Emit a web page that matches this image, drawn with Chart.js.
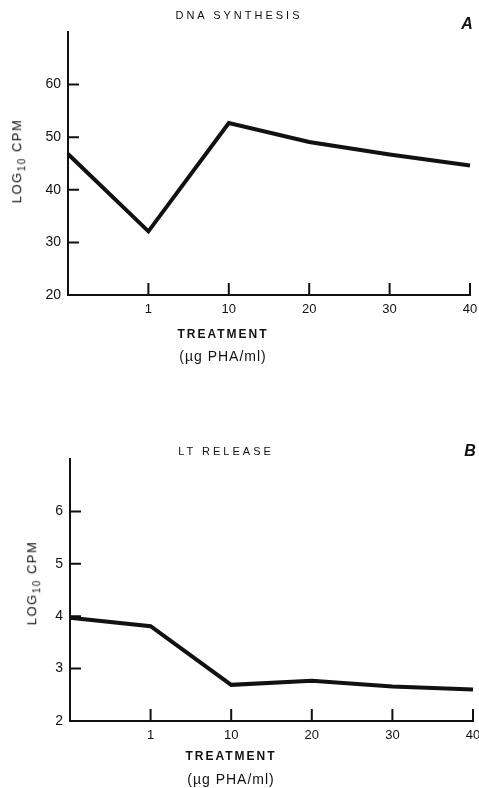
<!DOCTYPE html>
<html>
<head>
<meta charset="utf-8">
<script src="https://cdn.jsdelivr.net/npm/chart.js@4"></script>
<style>
  body { margin: 0; background: #fff; overflow: hidden; }
  #wrap { position: relative; width: 479px; height: 788px; font-family: "Liberation Sans", Arial, sans-serif; color: #111; }
  canvas { position: absolute; left: 0; }
  .lbl { position: absolute; white-space: nowrap; transform: translate(-50%, -50%); }
  .title { font-size: 11px; letter-spacing: 3px; }
  .xt { font-size: 12px; font-weight: bold; letter-spacing: 2px; }
  .unit { font-size: 14px; letter-spacing: 1px; }
  .panel { font-size: 16px; font-weight: bold; font-style: italic; }
  .yt { font-size: 13px; letter-spacing: 1.5px; transform: translate(-50%, -50%) rotate(-90deg); }
  .yt sub { font-size: 10px; }
</style>
</head>
<body>
<div id="wrap">
  <canvas id="chartA" width="479" height="394" style="top:0"></canvas>
  <canvas id="chartB" width="479" height="394" style="top:394px"></canvas>

  <div class="lbl title" style="left:239px; top:15px">DNA SYNTHESIS</div>
  <div class="lbl panel" style="left:467px; top:24px">A</div>
  <div class="lbl yt" style="left:18px; top:161px">LOG<sub>10</sub> CPM</div>
  <div class="lbl xt" style="left:223px; top:334px">TREATMENT</div>
  <div class="lbl unit" style="left:223px; top:356px">(µg PHA/ml)</div>

  <div class="lbl title" style="left:226px; top:451px">LT RELEASE</div>
  <div class="lbl panel" style="left:470px; top:451px">B</div>
  <div class="lbl yt" style="left:33px; top:583px">LOG<sub>10</sub> CPM</div>
  <div class="lbl xt" style="left:231px; top:756px">TREATMENT</div>
  <div class="lbl unit" style="left:231px; top:779px">(µg PHA/ml)</div>
</div>

<script>
// PHA dose categories (first one is the untreated control, unlabelled on the axis)
const doses = ['0', '1', '10', '20', '30', '40'];

// panel A - DNA synthesis
const dnaValues = [46.8, 32.1, 52.7, 49.1, 46.7, 44.6];
const dnaTicks = [20, 30, 40, 50, 60];

// panel B - LT release
const ltValues = [3.97, 3.81, 2.69, 2.77, 2.66, 2.6];
const ltTicks = [2, 3, 4, 5, 6];

// ticks point inward, so draw them ourselves from the scales
const innerTicks = {
  id: 'innerTicks',
  afterDraw(chart) {
    const ctx = chart.ctx;
    const x = chart.scales.x, y = chart.scales.y;
    ctx.save();
    ctx.strokeStyle = '#111';
    ctx.lineWidth = 2;
    ctx.beginPath();
    y.ticks.forEach(t => {
      const py = y.getPixelForValue(t.value);
      ctx.moveTo(x.left, py);
      ctx.lineTo(x.left + 11, py);
    });
    x.ticks.forEach((t, i) => {
      if (i === 0) return;
      const px = x.getPixelForValue(t.value);
      ctx.moveTo(px, y.bottom);
      ctx.lineTo(px, y.bottom - 12);
    });
    ctx.stroke();
    ctx.restore();
  }
};

function makeChart(id, values, yTicks, yMin, yMax, box) {
  return new Chart(document.getElementById(id), {
    type: 'line',
    data: {
      labels: doses,
      datasets: [{
        data: values,
        borderColor: '#111',
        borderWidth: 4,
        pointRadius: 0,
        tension: 0,
        borderJoinStyle: 'miter'
      }]
    },
    options: {
      responsive: false,
      animation: false,
      layout: { padding: { top: box.top, right: box.right, left: 0, bottom: 0 } },
      plugins: { legend: { display: false }, tooltip: { enabled: false } },
      scales: {
        x: {
          type: 'category',
          offset: false,
          grid: { display: true, drawOnChartArea: false, drawTicks: false, color: 'rgba(0,0,0,0)' },
          border: { display: true, color: '#111', width: 2 },
          ticks: {
            color: '#111',
            padding: 7,
            font: { family: 'Liberation Sans', size: 13 },
            maxRotation: 0,
            autoSkip: false,
            callback: (v, i) => i === 0 ? '' : doses[i]
          },
          afterFit: s => { s.height = box.xh; s.paddingLeft = 0; s.paddingRight = 0; }
        },
        y: {
          min: yMin,
          max: yMax,
          grid: { display: true, drawOnChartArea: false, drawTicks: false, color: 'rgba(0,0,0,0)' },
          border: { display: true, color: '#111', width: 2 },
          afterBuildTicks: s => { s.ticks = yTicks.map(v => ({ value: v })); },
          ticks: {
            color: '#111',
            padding: 7,
            font: { family: 'Liberation Sans', size: 14 }
          },
          afterFit: s => { s.width = box.yw; s.paddingTop = 0; s.paddingBottom = 0; }
        }
      }
    },
    plugins: [innerTicks]
  });
}

makeChart('chartA', dnaValues, dnaTicks, 20, 70, { top: 32, right: 9, xh: 99, yw: 68 });
makeChart('chartB', ltValues, ltTicks, 2, 7, { top: 65, right: 6, xh: 67, yw: 70 });
</script>
</body>
</html>
